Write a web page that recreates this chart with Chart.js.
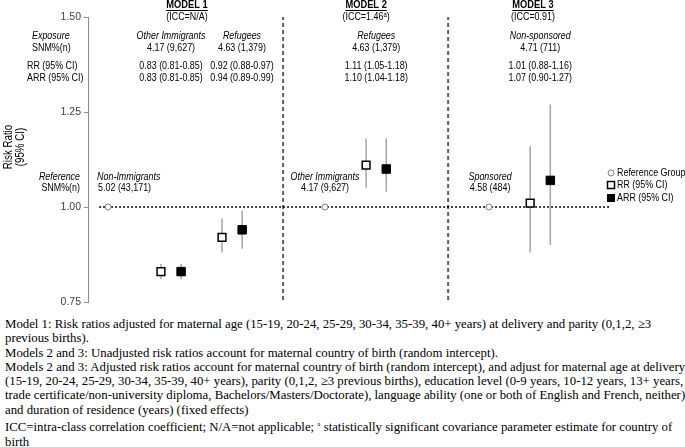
<!DOCTYPE html>
<html>
<head>
<meta charset="utf-8">
<script src="https://cdn.jsdelivr.net/npm/chart.js@4"></script>
<style>
  body { margin: 0; background: #fff; }
  #wrap { position: relative; width: 685px; height: 312px; }
  #note {
    font-family: "Liberation Serif", "Times New Roman", serif;
    font-size: 12.8px; line-height: 14.3px; color: #000;
    padding-left: 5px; margin-top: 5px; white-space: nowrap;
  }
  #note sup { font-size: 7px; }
</style>
</head>
<body>
<div id="wrap"><canvas id="riskChart"></canvas></div>
<div id="note">
Model 1: Risk ratios adjusted for maternal age (15-19, 20-24, 25-29, 30-34, 35-39, 40+ years) at delivery and parity (0,1,2, ≥3<br>
previous births).<br>
Models 2 and 3: Unadjusted risk ratios account for maternal country of birth (random intercept).<br>
Models 2 and 3: Adjusted risk ratios account for maternal country of birth (random intercept), and adjust for maternal age at delivery<br>
(15-19, 20-24, 25-29, 30-34, 35-39, 40+ years), parity (0,1,2, ≥3 previous births), education level (0-9 years, 10-12 years, 13+ years,<br>
trade certificate/non-university diploma, Bachelors/Masters/Doctorate), language ability (one or both of English and French, neither)<br>
and duration of residence (years) (fixed effects)<br>
ICC=intra-class correlation coefficient; N/A=not applicable; <sup>a</sup> statistically significant covariance parameter estimate for country of<br>
birth
</div>
<script>
// モデルごとの見出し
const models = ['MODEL 1', 'MODEL 2', 'MODEL 3'];
const iccLabels = ['(ICC=N/A)', '(ICC=1.46ᵃ)', '(ICC=0.91)'];

// 参照群
const refGroups = ['Non-Immigrants', 'Other Immigrants', 'Sponsored'];
const refSNM = ['5.02 (43,171)', '4.17 (9,627)', '4.58 (484)'];
const refValue = [1.00, 1.00, 1.00];

// 曝露群
const exposures = ['Other Immigrants', 'Refugees', 'Refugees', 'Non-sponsored'];
const exposureSNM = ['4.17 (9,627)', '4.63 (1,379)', '4.63 (1,379)', '4.71 (711)'];
const rr = [0.83, 0.92, 1.11, 1.01];
const rrLow = [0.81, 0.88, 1.05, 0.88];
const rrHigh = [0.85, 0.97, 1.18, 1.16];
const arr = [0.83, 0.94, 1.10, 1.07];
const arrLow = [0.81, 0.89, 1.04, 0.90];
const arrHigh = [0.85, 0.99, 1.18, 1.27];

const yTicks = [0.75, 1.00, 1.25, 1.50];

// 横位置（x軸の単位、レイアウトのみ）
const refX = [1.0, 11.76, 19.9];
const rrX = [3.62, 6.65, 13.8, 21.94];
const arrX = rrX.map(v => v + 1.0);
const dividerX = [9.68, 17.87];
const titleX = [4.91, 13.8, 22.08];
const exposureTextX = [4.12, 7.64, 14.3, 22.44];
const refTextX = [0.45, 11.76, 19.95];
const refTextAlign = ['left', 'center', 'center'];

const sansFont = '"Liberation Sans", Arial, sans-serif';
const squeeze = 0.81; // Calibri風に横を詰める

function ci(lo, hi) {
  return lo.toFixed(2) + '-' + hi.toFixed(2);
}

function segments(xs, lows, highs) {
  const pts = [];
  xs.forEach((xv, i) => {
    pts.push({x: xv, y: lows[i]}, {x: xv, y: highs[i]}, {x: xv, y: null});
  });
  return pts;
}

function narrowText(ctx, text, x, y, font, align) {
  ctx.save();
  ctx.font = font;
  ctx.textAlign = align;
  ctx.textBaseline = 'middle';
  ctx.translate(x, y);
  ctx.scale(squeeze, 1);
  ctx.fillText(text, 0, 0);
  const w = ctx.measureText(text).width * squeeze;
  ctx.restore();
  return w;
}

const textPlugin = {
  id: 'panelText',
  afterDraw(chart) {
    const ctx = chart.ctx;
    const x = chart.scales.x;
    const reg = '11px ' + sansFont;
    const ita = 'italic 11px ' + sansFont;
    ctx.save();
    ctx.fillStyle = '#000';

    // 見出し
    models.forEach((m, i) => {
      const px = x.getPixelForValue(titleX[i]);
      const w = narrowText(ctx, m, px, 5, 'bold 11.5px ' + sansFont, 'center');
      ctx.fillRect(px - w / 2, 10, w, 1);
      narrowText(ctx, iccLabels[i], px, 17, reg, 'center');
    });

    // 左側のラベル
    narrowText(ctx, 'Exposure', 32, 36, ita, 'left');
    narrowText(ctx, 'SNM%(n)', 32, 48, reg, 'left');
    narrowText(ctx, 'RR (95% CI)', 27, 66, reg, 'left');
    narrowText(ctx, 'ARR (95% CI)', 27, 78, reg, 'left');
    narrowText(ctx, 'Reference', 80, 177, ita, 'right');
    narrowText(ctx, 'SNM%(n)', 80, 188, reg, 'right');

    // 曝露群のテキスト
    exposures.forEach((e, i) => {
      const px = x.getPixelForValue(exposureTextX[i]);
      narrowText(ctx, e, px, 36, ita, 'center');
      narrowText(ctx, exposureSNM[i], px, 48, reg, 'center');
      narrowText(ctx, rr[i].toFixed(2) + ' (' + ci(rrLow[i], rrHigh[i]) + ')', px, 66, reg, 'center');
      narrowText(ctx, arr[i].toFixed(2) + ' (' + ci(arrLow[i], arrHigh[i]) + ')', px, 78, reg, 'center');
    });

    // 参照群のテキスト
    refGroups.forEach((g, i) => {
      const px = x.getPixelForValue(refTextX[i]);
      narrowText(ctx, g, px, 177, ita, refTextAlign[i]);
      narrowText(ctx, refSNM[i], px + (i === 0 ? 1 : 0), 188, reg, refTextAlign[i]);
    });

    // y軸タイトル
    ctx.save();
    ctx.translate(0, 147);
    ctx.rotate(-Math.PI / 2);
    narrowText(ctx, 'Risk Ratio', 0, 9, '12px ' + sansFont, 'center');
    narrowText(ctx, '(95% CI)', 0, 21, '12px ' + sansFont, 'center');
    ctx.restore();
    ctx.restore();

    // 凡例
    ctx.save();
    const lx = 611;
    ctx.lineWidth = 1;
    ctx.strokeStyle = '#7f7f7f';
    ctx.fillStyle = '#fff';
    ctx.beginPath();
    ctx.arc(lx, 173, 3, 0, Math.PI * 2);
    ctx.fill();
    ctx.stroke();
    ctx.strokeStyle = '#000';
    ctx.lineWidth = 1.5;
    ctx.strokeRect(lx - 3.5, 181.5, 7, 7);
    ctx.fillStyle = '#000';
    ctx.fillRect(lx - 4, 194, 8, 8);
    narrowText(ctx, 'Reference Group', 617, 173, reg, 'left');
    narrowText(ctx, 'RR (95% CI)', 617, 185, reg, 'left');
    narrowText(ctx, 'ARR (95% CI)', 617, 198, reg, 'left');
    ctx.restore();
  }
};

const ctx = document.getElementById('riskChart');
const config = {
  type: 'scatter',
  data: {
    datasets: [
      {
        type: 'scatter',
        label: 'ARR (95% CI)',
        data: arrX.map((v, i) => ({x: v, y: arr[i]})),
        pointStyle: 'rect',
        pointRadius: 6,
        backgroundColor: '#000',
        borderColor: '#000',
        borderWidth: 1,
        order: 0
      },
      {
        type: 'scatter',
        label: 'RR (95% CI)',
        data: rrX.map((v, i) => ({x: v, y: rr[i]})),
        pointStyle: 'rect',
        pointRadius: 5.5,
        backgroundColor: '#fff',
        borderColor: '#000',
        borderWidth: 1.5,
        order: 1
      },
      {
        type: 'scatter',
        label: 'Reference Group',
        data: refX.map((v, i) => ({x: v, y: refValue[i]})),
        pointStyle: 'circle',
        pointRadius: 3,
        backgroundColor: '#fff',
        borderColor: '#7f7f7f',
        borderWidth: 1,
        order: 2
      },
      {
        type: 'line',
        label: 'CI',
        data: segments(rrX, rrLow, rrHigh).concat(segments(arrX, arrLow, arrHigh)),
        borderColor: '#a6a6a6',
        borderWidth: 1.5,
        pointRadius: 0,
        spanGaps: false,
        order: 3
      },
      {
        type: 'line',
        label: 'RR = 1',
        data: [{x: 0.55, y: 1}, {x: 25.9, y: 1}],
        borderColor: '#000',
        borderWidth: 1.5,
        borderDash: [2, 2],
        pointRadius: 0,
        order: 4
      },
      {
        type: 'line',
        label: 'divider',
        data: segments(dividerX, [0.755, 0.755], [1.5, 1.5]),
        borderColor: '#5f5f5f',
        borderWidth: 2,
        borderDash: [4, 3],
        pointRadius: 0,
        spanGaps: false,
        order: 5
      }
    ]
  },
  options: {
    responsive: true,
    maintainAspectRatio: false,
    animation: false,
    events: [],
    clip: false,
    layout: { padding: { top: 17, bottom: 10, left: 0, right: 73 } },
    plugins: {
      legend: { display: false },
      tooltip: { enabled: false }
    },
    scales: {
      x: { type: 'linear', min: 0, max: 26, display: false },
      y: {
        min: 0.75,
        max: 1.5,
        afterFit: s => { s.width = 88; },
        afterBuildTicks: s => { s.ticks = yTicks.map(v => ({value: v})); },
        ticks: {
          callback: v => Number(v).toFixed(2),
          font: { size: 10.5, family: sansFont },
          color: '#404040',
          padding: 3
        },
        grid: { drawOnChartArea: false, drawTicks: true, tickLength: 4, color: '#8c8c8c' },
        border: { display: true, color: '#8c8c8c', width: 1 }
      }
    }
  },
  plugins: [textPlugin]
};
const riskChart = new Chart(ctx, config);
</script>
</body>
</html>
